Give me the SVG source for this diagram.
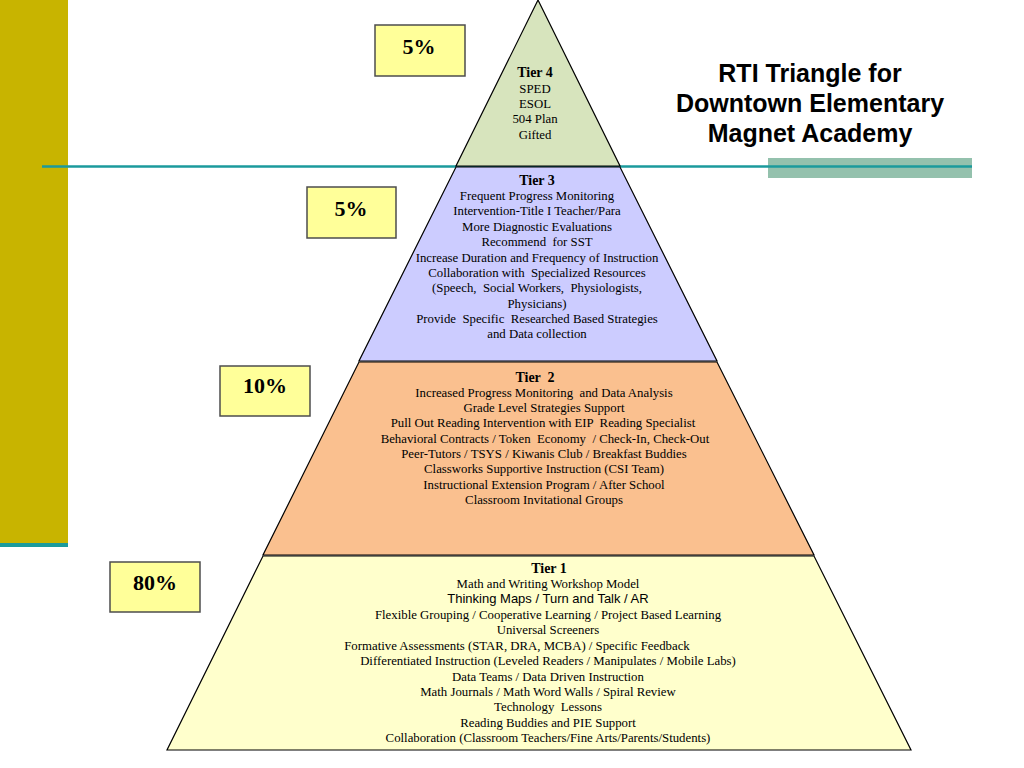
<svg xmlns="http://www.w3.org/2000/svg" width="1024" height="768" viewBox="0 0 1024 768">
<style>
.tier{stroke:#000;stroke-width:1.2}
.t{font-family:"Liberation Serif","Times New Roman",serif;font-size:12.8px;fill:#000;text-anchor:middle;white-space:pre}
.s{font-family:"Liberation Sans",Arial,sans-serif;font-size:13px;fill:#000;text-anchor:middle}
.b{font-weight:bold;font-size:14px}
.pbox{fill:#ffff99;stroke:#4d4d4d;stroke-width:1.5}
.pct{font-family:"Liberation Serif","Times New Roman",serif;font-size:22px;font-weight:bold;fill:#000;text-anchor:middle}
.title{font-family:"Liberation Sans",Arial,sans-serif;font-size:25px;font-weight:bold;fill:#000;text-anchor:middle}
</style>
<rect width="1024" height="768" fill="#ffffff"/>
<g id="decor">
<rect x="0" y="0" width="68" height="544" fill="#c8b400"/>
<rect x="0" y="543" width="68" height="4" fill="#1b9a9c"/>
<rect x="768" y="158" width="204" height="20" fill="#94c1ad"/>
<line x1="42" y1="166.5" x2="972" y2="166.5" stroke="#1b9a9c" stroke-width="2.5"/>
</g>
<g id="title">
<text class="title" x="810" y="82">RTI Triangle for</text>
<text class="title" x="810" y="112">Downtown Elementary</text>
<text class="title" x="810" y="142">Magnet Academy</text>
</g>
<g id="tier4">
<polygon class="tier" fill="#d7e4bd" points="538,0 620,166 456,166"/>
<text class="t b" x="535" y="77">Tier 4</text>
<text class="t" x="535" y="92.5">SPED</text>
<text class="t" x="535" y="108">ESOL</text>
<text class="t" x="535" y="123">504 Plan</text>
<text class="t" x="535" y="138.5">Gifted</text>
</g>
<g id="tier3">
<polygon class="tier" fill="#ccccff" points="456,167 620,167 717,361 359,361"/>
<text class="t b" x="537" y="185">Tier 3</text>
<text class="t" x="537" y="200">Frequent Progress Monitoring</text>
<text class="t" x="537" y="215.3">Intervention-Title I Teacher/Para</text>
<text class="t" x="537" y="230.7">More Diagnostic Evaluations</text>
<text class="t" x="537" y="246">Recommend  for SST</text>
<text class="t" x="537" y="261.5">Increase Duration and Frequency of Instruction</text>
<text class="t" x="537" y="277">Collaboration with  Specialized Resources</text>
<text class="t" x="537" y="292.3">(Speech,  Social Workers,  Physiologists,</text>
<text class="t" x="537" y="307.7">Physicians)</text>
<text class="t" x="537" y="323">Provide  Specific  Researched Based Strategies</text>
<text class="t" x="537" y="338.4">and Data collection</text>
</g>
<g id="tier2">
<polygon class="tier" fill="#fac08f" points="359,362 717,362 814,555 263,555"/>
<text class="t b" x="535" y="381.5">Tier  2</text>
<text class="t" x="544" y="396.5">Increased Progress Monitoring  and Data Analysis</text>
<text class="t" x="544" y="412">Grade Level Strategies Support</text>
<text class="t" x="543" y="427">Pull Out Reading Intervention with EIP  Reading Specialist</text>
<text class="t" x="545" y="442.5">Behavioral Contracts / Token  Economy  / Check-In, Check-Out</text>
<text class="t" x="544" y="458">Peer-Tutors / TSYS / Kiwanis Club / Breakfast Buddies</text>
<text class="t" x="544" y="473">Classworks Supportive Instruction (CSI Team)</text>
<text class="t" x="544" y="488.5">Instructional Extension Program / After School</text>
<text class="t" x="544" y="504">Classroom Invitational Groups</text>
</g>
<g id="tier1">
<polygon class="tier" fill="#ffffcc" points="263,556 814,556 911,750 167,750"/>
<text class="t b" x="549" y="572.5">Tier 1</text>
<text class="t" x="548" y="587.5">Math and Writing Workshop Model</text>
<text class="s" x="548" y="603">Thinking Maps / Turn and Talk / AR</text>
<text class="t" x="548" y="618.5">Flexible Grouping / Cooperative Learning / Project Based Learning</text>
<text class="t" x="548" y="634">Universal Screeners</text>
<text class="t" x="517" y="649.5">Formative Assessments (STAR, DRA, MCBA) / Specific Feedback</text>
<text class="t" x="548" y="665">Differentiated Instruction (Leveled Readers / Manipulates / Mobile Labs)</text>
<text class="t" x="548" y="680.5">Data Teams / Data Driven Instruction</text>
<text class="t" x="548" y="696">Math Journals / Math Word Walls / Spiral Review</text>
<text class="t" x="548" y="711">Technology  Lessons</text>
<text class="t" x="548" y="726.5">Reading Buddies and PIE Support</text>
<text class="t" x="548" y="742">Collaboration (Classroom Teachers/Fine Arts/Parents/Students)</text>
</g>
<g id="pct-tier4">
<rect class="pbox" x="375" y="25" width="90" height="51"/>
<text class="pct" x="419" y="54">5%</text>
</g>
<g id="pct-tier3">
<rect class="pbox" x="307" y="187" width="89" height="51"/>
<text class="pct" x="351" y="216">5%</text>
</g>
<g id="pct-tier2">
<rect class="pbox" x="220" y="366" width="90" height="50"/>
<text class="pct" x="265" y="393">10%</text>
</g>
<g id="pct-tier1">
<rect class="pbox" x="110" y="562" width="90" height="50"/>
<text class="pct" x="155" y="590">80%</text>
</g>
</svg>
